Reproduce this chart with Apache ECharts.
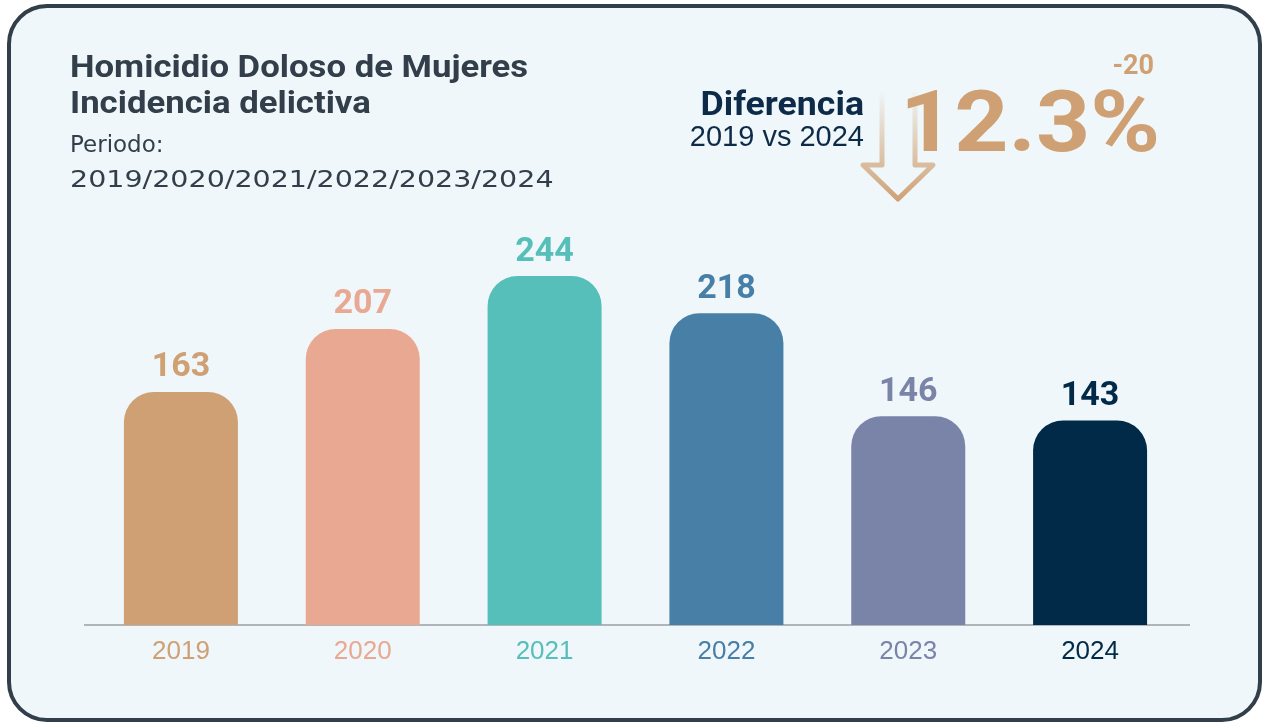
<!DOCTYPE html>
<html>
<head>
<meta charset="utf-8">
<script src="https://cdn.jsdelivr.net/npm/echarts@6/dist/echarts.min.js"></script>
<style>
  html, body { margin: 0; padding: 0; background: #fff; }
  #chart { width: 1265px; height: 726px; }
</style>
</head>
<body>
<div id="chart"></div>
<script>
// datos de la gráfica
const years = ['2019', '2020', '2021', '2022', '2023', '2024']
const casos = [163, 207, 244, 218, 146, 143]
const colores = ['#cfa073', '#e9a891', '#56bfba', '#487fa6', '#7a84a8', '#002a48']
const diferencia = '12.3%'
const diferenciaAbs = '-20'

const chart = echarts.init(document.getElementById('chart'))

// texto con un poco de estiramiento horizontal (la fuente original es más ancha)
function texto(x, y, txt, font, fill, align, sx) {
  return {
    type: 'text', x: x, y: y, scaleX: sx || 1, z: 5,
    style: { text: txt, font: font, fill: fill, align: align || 'left', verticalAlign: 'top' }
  }
}

const option = {
  backgroundColor: '#fff',
  animation: false,
  grid: { left: 90, right: 84, top: 196, bottom: 101 },
  xAxis: {
    type: 'category',
    data: years,
    axisTick: { show: false },
    axisLine: { show: false },
    axisLabel: {
      margin: 14,
      fontSize: 26,
      fontFamily: 'Liberation Sans',
      color: (v, i) => colores[i]
    }
  },
  yAxis: {
    type: 'value',
    min: 0,
    max: 300,
    show: false
  },
  series: [{
    type: 'bar',
    barWidth: 114,
    data: casos.map((v, i) => ({
      value: v,
      itemStyle: { color: colores[i] },
      label: { color: colores[i] }
    })),
    itemStyle: { borderRadius: [30, 30, 0, 0] },
    label: {
      show: true,
      position: 'top',
      distance: 7,
      fontSize: 34,
      fontWeight: 'bold',
      fontFamily: 'Roboto'
    },
    z: 3
  }],
  graphic: [
    // tarjeta de fondo
    {
      type: 'rect', z: -10, silent: true,
      shape: { x: 9, y: 6, width: 1251, height: 714, r: 38 },
      style: { fill: '#eff7fa', stroke: '#323f4a', lineWidth: 4 }
    },
    // línea base
    {
      type: 'line', z: 1,
      shape: { x1: 84, y1: 625, x2: 1190, y2: 625 },
      style: { stroke: '#9a9fa3', lineWidth: 1.5 }
    },
    // títulos
    texto(70, 54, 'Homicidio Doloso de Mujeres', 'bold 31px Roboto', '#323f4a', 'left', 1.12),
    texto(70, 90, 'Incidencia delictiva', 'bold 31px Roboto', '#323f4a', 'left', 1.12),
    texto(70, 135, 'Periodo:', '23px DejaVu Sans', '#323f4a', 'left', 1.0),
    texto(70, 170, years.join('/'), '23px DejaVu Sans', '#323f4a', 'left', 1.24),
    // flecha
    {
      type: 'polyline', z: 2, silent: true,
      shape: { points: [[882, 92], [882, 165], [863, 165], [898, 199], [933, 165], [915, 165], [915, 92]] },
      style: {
        fill: null, lineWidth: 5, lineJoin: 'round',
        stroke: new echarts.graphic.LinearGradient(0, 0, 0, 1, [
          { offset: 0, color: 'rgba(207,160,115,0)' },
          { offset: 0.6, color: 'rgba(207,160,115,0.6)' },
          { offset: 1, color: 'rgba(207,160,115,1)' }
        ])
      }
    },
    texto(864, 89, 'Diferencia', 'bold 34px Roboto', '#0d2b48', 'right', 1.05),
    texto(864, 123, '2019 vs 2024', '29px Liberation Sans', '#0d2b48', 'right', 1.0),
    texto(900, 86, diferencia, 'bold 86px Roboto', '#cfa073', 'left', 1.1),
    texto(1154, 54, diferenciaAbs, 'bold 27px Roboto', '#cfa073', 'right', 1.0)
  ]
}

chart.setOption(option)
</script>
</body>
</html>
